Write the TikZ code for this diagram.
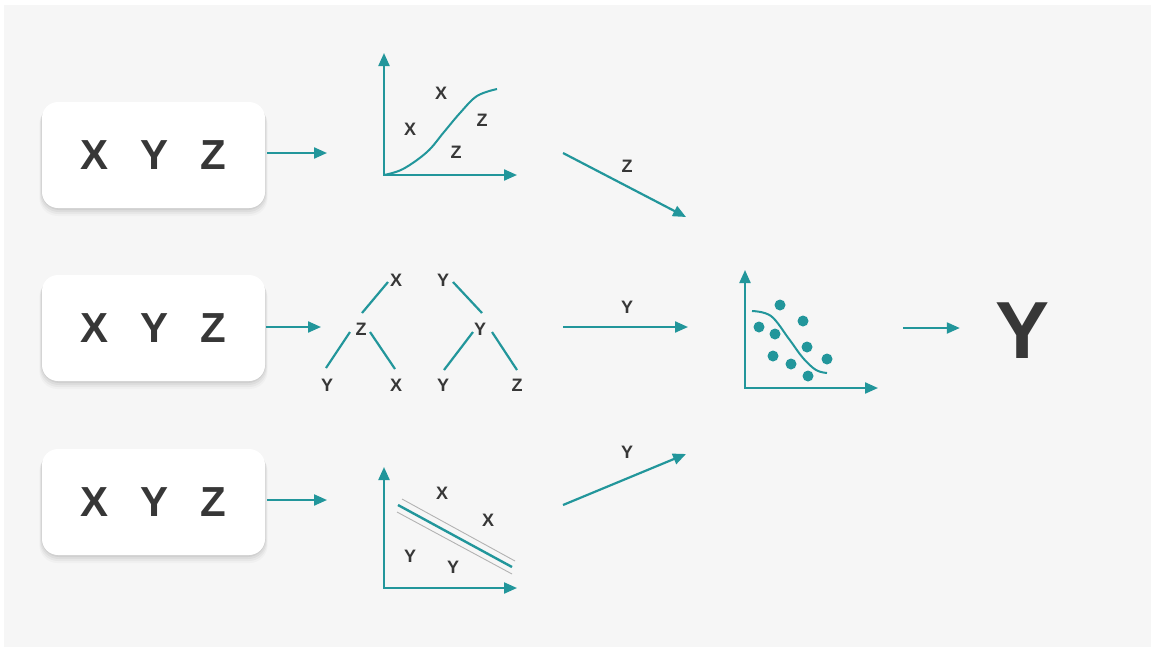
\documentclass[tikz,border=0pt]{standalone}
\usepackage{fontspec}
\setmainfont{Liberation Sans}
\usetikzlibrary{arrows.meta}
\definecolor{tealc}{RGB}{34,150,155}
\definecolor{txt}{RGB}{55,55,55}
\definecolor{bgc}{RGB}{246,246,246}
\definecolor{gline}{RGB}{178,178,178}
\begin{document}
\begin{tikzpicture}[x=1pt,y=-1pt,
  arr/.style={draw=tealc, line width=2.2pt, -{Triangle[length=13pt,width=11pt]}},
  axes/.style={draw=tealc, line width=2.2pt, {Triangle[length=13pt,width=11pt]}-{Triangle[length=13pt,width=11pt]}},
  lbl/.style={font=\fontsize{18}{18}\selectfont\bfseries, text=txt, inner sep=0pt},
  box/.style={rounded corners=16pt, minimum width=223pt, minimum height=106pt, fill=white, inner sep=0pt,
    font=\fontsize{42}{42}\selectfont\bfseries, text=txt},
  tline/.style={draw=tealc, line width=2.2pt},
  dot/.style={fill=tealc}]
\useasboundingbox (0,0) rectangle (1155,651);
\fill[white] (0,0) rectangle (1155,651);
\fill[bgc] (4,5) rectangle (1151,647);

% shadows
\foreach \cy in {155,328,502}{
  \foreach \d/\op in {8/0.025,6/0.035,4/0.045,2/0.06}{
    \fill[black, opacity=\op, rounded corners=18pt] (42-\d/3, \cy-53+\d/2) rectangle (265+\d/3, \cy+53+\d);
  }
}
% boxes
\node[box] (b1) at (153.5,155) {X\hspace{32pt}Y\hspace{32pt}Z\hspace{9pt}};
\node[box] (b2) at (153.5,328) {X\hspace{32pt}Y\hspace{32pt}Z\hspace{9pt}};
\node[box] (b3) at (153.5,502) {X\hspace{32pt}Y\hspace{32pt}Z\hspace{9pt}};

% row arrows
\coordinate (a1) at (327,153);
\coordinate (a2) at (321,327);
\coordinate (a3) at (327,500);
\draw[arr] ([xshift=2pt]b1.east |- a1) -- (a1);
\draw[arr] ([xshift=1pt]b2.east |- a2) -- (a2);
\draw[arr] ([xshift=2pt]b3.east |- a3) -- (a3);

% chart 1: S-curve
\coordinate (o1) at (384,175);
\coordinate (t1) at (384,53);
\coordinate (r1) at (517,175);
\draw[axes] (t1) -- (o1) -- (r1);
\draw[tealc, line width=2pt] plot[smooth, tension=0.6] coordinates {(384,175) (403,169) (427,152) (444,132) (460,113) (477,96) (497,89)};
\node[lbl] (c1x1) at (441,93) {X};
\node[lbl] (c1x2) at (410,129) {X};
\node[lbl] (c1z1) at (482,120) {Z};
\node[lbl] (c1z2) at (456,152) {Z};

% chart 2: trees
\node[lbl] (tX1) at (396,280) {X};
\node[lbl] (tZ1) at (361,329) {Z};
\node[lbl] (tY1) at (327,385) {Y};
\node[lbl] (tX2) at (396,385) {X};
\node[lbl] (tY2) at (443,280) {Y};
\node[lbl] (tY3) at (480,329) {Y};
\node[lbl] (tY4) at (443,385) {Y};
\node[lbl] (tZ2) at (517,385) {Z};
\draw[tline] ([shift={(-8,2)}]tX1.center) -- ([shift={(1,-16)}]tZ1.center);
\draw[tline] ([shift={(-11,3)}]tZ1.center) -- ([shift={(-1,-17)}]tY1.center);
\draw[tline] ([shift={(9,3)}]tZ1.center) -- ([shift={(-1,-16)}]tX2.center);
\draw[tline] ([shift={(10,2)}]tY2.center) -- ([shift={(2,-16)}]tY3.center);
\draw[tline] ([shift={(-7,3)}]tY3.center) -- ([shift={(1,-15)}]tY4.center);
\draw[tline] ([shift={(12,3)}]tY3.center) -- ([shift={(0,-15)}]tZ2.center);

% chart 3: linear
\coordinate (o3) at (384,588);
\coordinate (t3) at (384,467);
\coordinate (r3) at (517,588);
\draw[axes] (t3) -- (o3) -- (r3);
\draw[gline, line width=0.9pt] (402,499) -- (515,561);
\draw[gline, line width=0.9pt] (397,512) -- (512,574);
\draw[tealc, line width=2.4pt] (398,505) -- (512,567);
\node[lbl] (c3x1) at (442,493) {X};
\node[lbl] (c3x2) at (488,520) {X};
\node[lbl] (c3y1) at (410,556) {Y};
\node[lbl] (c3y2) at (453,567) {Y};

% middle arrows
\coordinate (m1s) at (563,153);
\coordinate (m1e) at (686,217);
\coordinate (m2s) at (563,327);
\coordinate (m2e) at (688,327);
\coordinate (m3s) at (563,505);
\coordinate (m3e) at (686,454);
\draw[arr] (m1s) -- (m1e);
\draw[arr] (m2s) -- (m2e);
\draw[arr] (m3s) -- (m3e);
\node[lbl] (mz) at (627,166) {Z};
\node[lbl] (my1) at (627,307) {Y};
\node[lbl] (my2) at (627,452) {Y};

% chart 4: scatter
\coordinate (o4) at (745,388);
\coordinate (t4) at (745,270);
\coordinate (r4) at (878,388);
\draw[axes] (t4) -- (o4) -- (r4);
\draw[tealc, line width=2pt] plot[smooth, tension=0.6] coordinates {(752,311) (771,316) (789,339) (803,358) (816,370) (827,373)};
\foreach \px/\py in {780/305, 759/327, 775/334, 803/321, 807/347, 773/356, 791/364, 808/376, 827/359}{
  \fill[dot] (\px,\py) circle (5.5);
}

% final
\node[font=\fontsize{81}{81}\selectfont\bfseries, text=txt, inner sep=0pt] (Yout) at (1022,331) {Y};
\coordinate (f1) at (903,328);
\draw[arr] (f1) -- ([xshift=-35pt]Yout.west |- f1);
\end{tikzpicture}
\end{document}
